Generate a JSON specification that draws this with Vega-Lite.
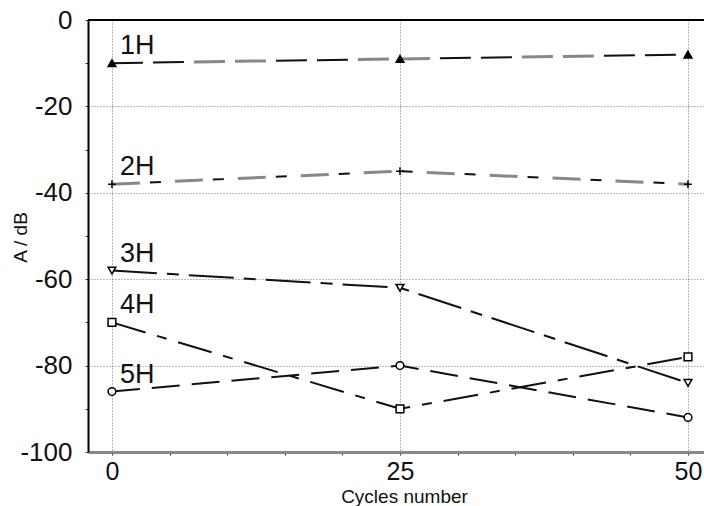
{
  "$schema": "https://vega.github.io/schema/vega-lite/v6.json",
  "width": 616,
  "height": 432,
  "autosize": "none",
  "padding": {"left": 88, "top": 20, "right": 0, "bottom": 54},
  "background": "white",
  "config": {
    "view": {"stroke": null},
    "legend": {"disable": true},
    "font": "Liberation Sans"
  },
  "data": {
    "values": [
      {"series": "1H", "cycles": 0, "A": -10},
      {"series": "1H", "cycles": 25, "A": -9},
      {"series": "1H", "cycles": 50, "A": -8},
      {"series": "2H", "cycles": 0, "A": -38},
      {"series": "2H", "cycles": 25, "A": -35},
      {"series": "2H", "cycles": 50, "A": -38},
      {"series": "3H", "cycles": 0, "A": -58},
      {"series": "3H", "cycles": 25, "A": -62},
      {"series": "3H", "cycles": 50, "A": -84},
      {"series": "4H", "cycles": 0, "A": -70},
      {"series": "4H", "cycles": 25, "A": -90},
      {"series": "4H", "cycles": 50, "A": -78},
      {"series": "5H", "cycles": 0, "A": -86},
      {"series": "5H", "cycles": 25, "A": -80},
      {"series": "5H", "cycles": 50, "A": -92}
    ]
  },
  "encoding": {
    "x": {
      "field": "cycles",
      "type": "quantitative",
      "scale": {"domain": [-2.08, 51.39], "nice": false, "zero": false},
      "axis": {
        "values": [0, 5, 10, 15, 20, 25, 30, 35, 40, 45, 50],
        "labelExpr": "datum.value % 25 === 0 ? '' + datum.value : ''",
        "title": "Cycles number",
        "titleFontSize": 19,
        "titleFontWeight": "normal",
        "titleColor": "#111",
        "titleX": 316,
        "titleY": 44,
        "titleBaseline": "middle",
        "labelFontSize": 25,
        "labelColor": "#111",
        "labelPadding": 4,
        "tickSize": 3,
        "tickColor": "#333",
        "domainColor": "#888",
        "domainWidth": 3,
        "grid": true,
        "gridColor": "#777",
        "gridDash": [1, 2],
        "gridWidth": 1,
        "gridOpacity": {"condition": {"test": "datum.value % 25 === 0", "value": 1}, "value": 0}
      }
    },
    "y": {
      "field": "A",
      "type": "quantitative",
      "scale": {"domain": [-100, 0], "nice": false},
      "axis": {
        "values": [-100, -90, -80, -70, -60, -50, -40, -30, -20, -10, 0],
        "labelExpr": "datum.value % 20 === 0 ? '' + datum.value : ''",
        "title": "A / dB",
        "titleFontSize": 19,
        "titleFontWeight": "normal",
        "titleColor": "#111",
        "titleX": -68,
        "titleY": 217,
        "titleAlign": "center",
        "titleBaseline": "middle",
        "labelFontSize": 26,
        "labelColor": "#111",
        "labelPadding": 13,
        "tickSize": 3,
        "tickColor": "#333",
        "domainColor": "#000",
        "domainWidth": 2,
        "grid": true,
        "gridColor": "#777",
        "gridDash": [1, 2],
        "gridWidth": 1,
        "gridOpacity": {"condition": {"test": "datum.value % 20 === 0", "value": 1}, "value": 0}
      }
    }
  },
  "layer": [
    {
      "mark": {"type": "rule", "color": "#000", "strokeWidth": 2},
      "encoding": {"y": {"datum": 0}, "x": null}
    },
    {
      "mark": {"type": "line", "color": "#111", "strokeWidth": 2},
      "encoding": {
        "detail": {"field": "series"},
        "strokeDash": {
          "field": "series",
          "type": "nominal",
          "scale": {
            "domain": ["1H", "2H", "3H", "4H", "5H"],
            "range": [[31, 10, 31, 92], [0, 38, 11, 14], [45, 10, 12, 10], [35, 12, 10, 12], [28, 12]]
          }
        }
      }
    },
    {
      "transform": [{"filter": "datum.series === '1H' || datum.series === '2H'"}],
      "mark": {"type": "line", "color": "#888", "strokeWidth": 3},
      "encoding": {
        "detail": {"field": "series"},
        "strokeDash": {
          "field": "series",
          "type": "nominal",
          "scale": {
            "domain": ["1H", "2H"],
            "range": [[0, 82, 31, 10, 31, 10], [28, 35]]
          }
        }
      }
    },
    {
      "mark": {"type": "point", "filled": true, "stroke": "#000", "strokeWidth": 1.5, "opacity": 1},
      "encoding": {
        "shape": {
          "field": "series",
          "type": "nominal",
          "scale": {
            "domain": ["1H", "2H", "3H", "4H", "5H"],
            "range": ["triangle-up", "M-1,0H1M0,-1V1", "triangle-down", "square", "circle"]
          }
        },
        "fill": {
          "field": "series",
          "type": "nominal",
          "scale": {
            "domain": ["1H", "2H", "3H", "4H", "5H"],
            "range": ["#000", "#000", "#fff", "#fff", "#fff"]
          }
        },
        "size": {"value": 60}
      }
    },
    {
      "transform": [{"filter": "datum.cycles === 0"}],
      "mark": {"type": "text", "align": "left", "baseline": "middle", "dx": 8, "dy": -17, "fontSize": 27, "color": "#111"},
      "encoding": {"text": {"field": "series"}}
    }
  ],
  "resolve": {"scale": {"strokeDash": "independent"}}
}
